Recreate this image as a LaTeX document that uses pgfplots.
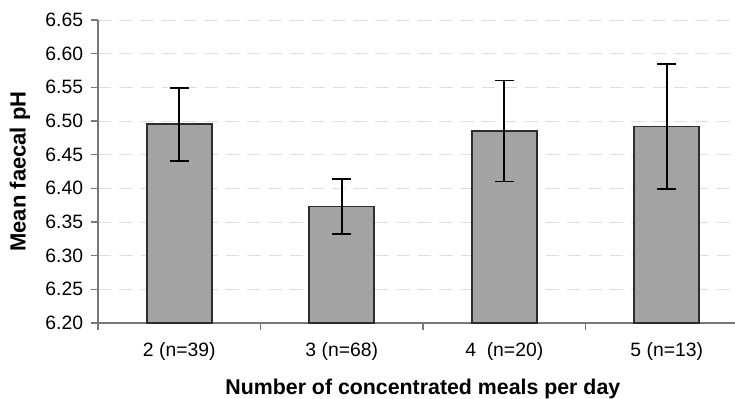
\documentclass[border=0pt]{standalone}
\usepackage{fontspec}
\setmainfont{Liberation Sans}
\usepackage{pgfplots}
\pgfplotsset{compat=1.18}
\pgfplotstableread{
x y err
0 6.495 0.054
1 6.373 0.041
2 6.485 0.075
3 6.492 0.093
}\datatable
\definecolor{barfill}{RGB}{163,163,163}
\definecolor{baredge}{RGB}{45,45,45}
\definecolor{axcol}{RGB}{120,120,120}
\begin{document}
\begin{tikzpicture}
\useasboundingbox (0,0) rectangle (551.25pt,299.25pt);
\begin{axis}[
  at={(73.5pt,57pt)}, anchor=south west,
  scale only axis,
  width=477.75pt, height=227.25pt,
  xmin=-0.5, xmax=3.42,
  ymin=6.20, ymax=6.65,
  ytick={6.20,6.25,...,6.66},
  /pgf/number format/fixed,
  /pgf/number format/fixed zerofill,
  /pgf/number format/precision=2,
  /pgf/number format/assume math mode=true,
  xtick={0,1,2,3},
  xticklabels={2 (n=39),3 (n=68),4\ \ (n=20),5 (n=13)},
  minor xtick={-0.5,0.5,1.5,2.5},
  axis x line*=bottom,
  axis y line*=left,
  axis line style={axcol, line width=0.8pt},
  tick align=outside,
  major tick length=5pt,
  minor tick length=5pt,
  major x tick style={draw=none},
  minor x tick style={axcol, line width=0.8pt},
  major y tick style={axcol, line width=0.8pt},
  ymajorgrids,
  major grid style={gray!25, line width=0.6pt, dash pattern=on 10pt off 6pt},
  tick label style={font=\fontsize{14.5}{17}\selectfont},
  yticklabel style={inner sep=0pt, xshift=-6pt},
  xticklabel style={anchor=base, inner sep=0pt, yshift=-20pt},
  xlabel={\textbf{Number of concentrated meals per day}},
  ylabel={\textbf{Mean faecal pH}},
  x label style={font=\fontsize{16}{19}\selectfont, at={(axis description cs:0.51,0)}, anchor=base, yshift=-54pt},
  y label style={font=\fontsize{16.5}{19}\selectfont, at={(axis description cs:0,0.5)}, anchor=center, yshift=58.5pt},
  clip=false,
]
\addplot[ybar, bar width=48.75pt, fill=barfill, draw=baredge, line width=1.3pt,
  error bars/.cd, y dir=both, y explicit,
  error bar style={black, line width=1.3pt},
  error mark options={rotate=90, mark size=7pt, line width=1.3pt}]
  table[x=x, y=y, y error=err] {\datatable};
\end{axis}
\end{tikzpicture}
\end{document}
